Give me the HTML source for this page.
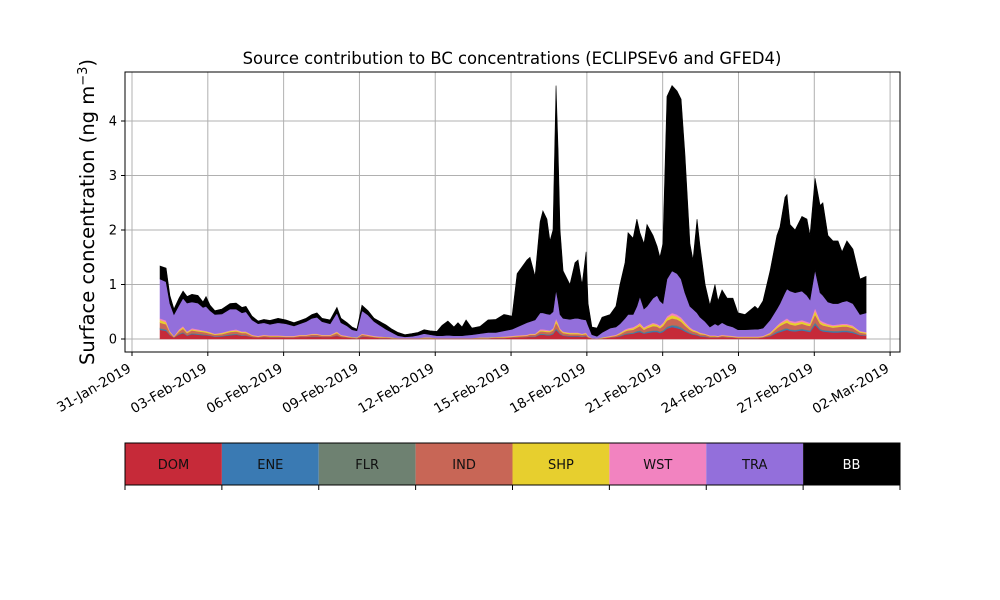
<!DOCTYPE html>
<html><head><meta charset="utf-8"><style>
body{margin:0;background:#fff;}
svg{display:block;font-family:"DejaVu Sans","Liberation Sans",sans-serif;}
</style></head><body>
<svg id="chart" width="1000" height="600" xmlns="http://www.w3.org/2000/svg">
<rect width="1000" height="600" fill="#fff"/>
<text x="512" y="64" font-size="16.4" text-anchor="middle">Source contribution to BC concentrations (ECLIPSEv6 and GFED4)</text>
<text transform="translate(94,212) rotate(-90)" font-size="19.5" text-anchor="middle">Surface concentration (ng m<tspan dy="-7" font-size="13">−3</tspan><tspan dy="7">)</tspan></text>
<g id="grid"></g>
<g id="areas"></g>
<g id="axes"></g>
<g id="cbar"></g>
</svg>
<script>
const days=[1.11,1.35,1.50,1.66,1.86,2.02,2.18,2.37,2.61,2.81,2.93,3.09,3.28,3.56,3.88,4.12,4.35,4.51,4.75,4.99,5.22,5.46,5.78,6.09,6.41,6.65,6.89,7.12,7.32,7.52,7.84,8.11,8.27,8.51,8.71,8.90,9.10,9.34,9.58,9.81,10.05,10.29,10.53,10.80,11.08,11.32,11.56,11.79,12.07,12.27,12.50,12.74,12.90,13.06,13.22,13.45,13.77,14.09,14.40,14.72,15.04,15.24,15.63,15.75,15.95,16.15,16.26,16.42,16.54,16.66,16.78,16.86,16.94,17.06,17.33,17.53,17.65,17.81,17.97,18.05,18.20,18.40,18.60,18.92,19.15,19.31,19.51,19.63,19.83,19.98,20.10,20.26,20.38,20.62,20.78,20.89,21.01,21.17,21.37,21.57,21.73,21.88,22.08,22.20,22.36,22.48,22.68,22.87,23.07,23.19,23.35,23.55,23.78,23.98,24.26,24.65,24.77,24.97,25.25,25.52,25.64,25.84,25.92,26.04,26.24,26.51,26.71,26.83,27.03,27.23,27.34,27.54,27.74,27.94,28.10,28.29,28.53,28.81,29.05];
const DOM=[.17,.15,.07,.03,.08,.11,.06,.09,.08,.07,.07,.06,.04,.05,.07,.08,.06,.06,.04,.03,.04,.03,.03,.03,.03,.04,.04,.04,.04,.04,.04,.06,.04,.03,.02,.01,.04,.04,.03,.02,.02,.01,.01,.01,.01,.01,.01,.01,.01,.01,.01,.01,.01,.01,.01,.01,.01,.01,.02,.02,.03,.03,.04,.04,.04,.08,.08,.07,.07,.09,.17,.13,.09,.06,.05,.05,.05,.04,.05,.03,.01,.01,.01,.03,.04,.05,.08,.09,.10,.12,.13,.10,.11,.13,.13,.11,.13,.19,.22,.20,.18,.14,.10,.08,.07,.05,.04,.03,.03,.03,.04,.03,.03,.02,.02,.02,.02,.03,.05,.11,.13,.16,.17,.15,.14,.16,.14,.13,.26,.16,.14,.13,.12,.12,.13,.13,.11,.07,.06];
const ENE=[.02,.02,.01,0,.01,.01,.01,.01,.01,.01,.01,.01,.01,.01,.01,.01,.01,.01,0,0,0,0,0,0,0,0,0,.01,.01,0,0,.01,0,0,0,0,.01,0,0,0,0,0,0,0,0,0,0,0,0,0,0,0,0,0,0,0,0,0,0,0,0,0,0,.01,.01,.01,.01,.01,.01,.01,.02,.02,.01,.01,.01,.01,.01,.01,.01,0,0,0,0,0,0,.01,.01,.01,.01,.02,.02,.01,.02,.02,.02,.02,.02,.02,.03,.03,.02,.02,.01,.01,.01,.01,.01,0,0,0,0,0,0,0,0,0,0,0,.01,.02,.02,.02,.02,.02,.02,.02,.02,.02,.03,.02,.02,.02,.02,.02,.02,.02,.02,.01,.01];
const FLR=[.01,.01,0,0,.01,.01,0,.01,.01,.01,0,0,0,0,.01,.01,0,0,0,0,0,0,0,0,0,0,0,0,0,0,0,0,0,0,0,0,0,0,0,0,0,0,0,0,0,0,0,0,0,0,0,0,0,0,0,0,0,0,0,0,0,0,0,0,0,.01,.01,.01,.01,.01,.01,.01,.01,0,0,0,0,0,0,0,0,0,0,0,0,0,.01,.01,.01,.01,.01,.01,.01,.01,.01,.01,.01,.02,.01,.02,.02,.01,.01,.01,0,0,0,0,0,0,0,0,0,0,0,0,0,0,0,.01,.01,.02,.01,.01,.01,.01,.01,.01,.02,.01,.01,.01,.01,.01,.01,.01,.01,0,0];
const IND=[.10,.09,.04,.01,.04,.06,.04,.05,.04,.04,.04,.03,.03,.03,.04,.04,.04,.04,.02,.01,.02,.02,.02,.01,.01,.02,.02,.03,.03,.02,.02,.04,.02,.01,.01,.01,.03,.02,.01,.01,.01,.01,.01,.01,.01,.01,.01,.01,.01,.01,.01,.01,.01,.01,.01,.01,.01,.01,.01,.01,.01,.02,.02,.03,.03,.04,.04,.04,.04,.05,.10,.08,.05,.04,.03,.03,.03,.03,.03,.01,.01,0,.01,.01,.02,.03,.04,.05,.05,.06,.08,.05,.06,.08,.07,.06,.08,.11,.12,.11,.10,.08,.05,.04,.04,.03,.03,.02,.02,.01,.02,.02,.01,.01,.01,.01,.01,.01,.03,.06,.08,.09,.10,.09,.08,.09,.08,.08,.14,.09,.08,.07,.06,.07,.07,.07,.06,.04,.03];
const SHP=[.05,.04,.02,.01,.02,.03,.02,.02,.02,.02,.02,.02,.01,.02,.02,.02,.02,.02,.01,.01,.01,.01,.01,.01,.01,.01,.01,.01,.01,.01,.01,.02,.01,.01,.01,.01,.01,.01,.01,.01,.01,.01,0,0,0,0,.01,.01,0,0,0,0,0,0,0,0,.01,.01,.01,.01,.01,.01,.01,.01,.01,.02,.02,.02,.02,.02,.05,.04,.02,.02,.02,.02,.02,.01,.02,.01,0,0,.01,.01,.01,.02,.02,.02,.03,.03,.04,.03,.03,.04,.03,.03,.04,.05,.06,.05,.05,.04,.03,.02,.02,.02,.01,.01,.01,.01,.01,.01,.01,.01,.01,.01,.01,.01,.02,.03,.04,.04,.05,.04,.04,.04,.04,.04,.07,.04,.04,.03,.03,.03,.03,.03,.03,.02,.02];
const WST=[.03,.03,.01,.01,.02,.02,.01,.02,.02,.01,.01,.01,.01,.01,.01,.02,.01,.01,.01,.01,.01,.01,.01,.01,.01,.01,.01,.01,.01,.01,.01,.01,.01,.01,0,0,.01,.01,.01,.01,0,0,0,0,0,0,0,0,0,0,0,0,0,0,0,0,0,0,0,.01,.01,.01,.01,.01,.01,.02,.02,.02,.01,.02,.03,.02,.02,.01,.01,.01,.01,.01,.01,.01,0,0,0,.01,.01,.01,.02,.02,.02,.02,.02,.02,.02,.02,.02,.02,.02,.03,.04,.04,.03,.03,.02,.02,.01,.01,.01,.01,.01,.01,.01,.01,.01,.01,.01,.01,.01,.01,.01,.02,.02,.03,.03,.03,.03,.03,.03,.02,.05,.03,.03,.02,.02,.02,.02,.02,.02,.01,.01];
const TRA=[.72,.71,.50,.39,.44,.51,.52,.48,.48,.42,.45,.39,.35,.34,.39,.37,.34,.36,.27,.22,.22,.20,.23,.22,.18,.20,.24,.28,.30,.24,.20,.34,.22,.18,.13,.12,.42,.36,.26,.20,.14,.09,.04,.02,.03,.05,.07,.05,.04,.04,.05,.04,.04,.04,.05,.06,.07,.09,.08,.10,.12,.15,.22,.22,.25,.30,.30,.29,.29,.30,.52,.40,.25,.24,.24,.26,.26,.26,.23,.19,.06,.04,.09,.14,.14,.16,.20,.25,.23,.34,.48,.33,.35,.45,.52,.45,.35,.68,.77,.75,.70,.53,.38,.37,.33,.28,.22,.15,.21,.19,.22,.18,.16,.12,.12,.13,.13,.14,.23,.30,.35,.49,.54,.54,.53,.53,.48,.42,.70,.50,.48,.40,.39,.38,.40,.42,.40,.30,.35];
const BB=[.24,.25,.15,.10,.13,.13,.12,.14,.14,.10,.18,.10,.07,.09,.10,.11,.10,.10,.07,.05,.06,.07,.08,.07,.06,.06,.06,.07,.08,.06,.07,.10,.08,.06,.05,.03,.10,.08,.06,.07,.08,.06,.06,.04,.05,.05,.07,.07,.08,.19,.26,.16,.24,.16,.28,.12,.13,.23,.24,.30,.24,.98,1.15,1.18,.80,1.67,1.87,1.74,1.35,1.50,3.75,2.80,1.55,.87,.64,1.02,1.07,.64,1.25,.40,.14,.15,.28,.25,.38,.72,1.02,1.50,1.40,1.60,1.17,1.20,1.50,1.15,.90,.80,1.10,3.35,3.40,3.35,3.30,2.55,1.15,.90,1.72,1.30,.68,.40,.72,.45,.60,.50,.53,.31,.28,.42,.37,.50,.90,1.35,1.40,1.75,1.73,1.22,1.15,1.37,1.40,1.18,1.68,1.60,1.70,1.22,1.15,1.15,.92,1.10,1.00,.65,.67];
const sources=["DOM","ENE","FLR","IND","SHP","WST","TRA","BB"];
const colors=["#c62a39","#3a7ab3","#6e8171","#c86656","#e7cf2e","#f283c0","#936fdb","#000000"];
const yTicks=[0,1,2,3,4];
const xTickDays=[0,3,6,9,12,15,18,21,24,27,30];
const xTickLabels=["31-Jan-2019","03-Feb-2019","06-Feb-2019","09-Feb-2019","12-Feb-2019","15-Feb-2019","18-Feb-2019","21-Feb-2019","24-Feb-2019","27-Feb-2019","02-Mar-2019"];

const NS="http://www.w3.org/2000/svg";
const L=125,R=900,T=72,B=352;
const xS=d=>132+d*25.27;
const yS=v=>339-v*54.5;
function mk(tag,attrs,parent){const e=document.createElementNS(NS,tag);for(const k in attrs)e.setAttribute(k,attrs[k]);parent.appendChild(e);return e;}
const grid=document.getElementById('grid'),areas=document.getElementById('areas'),axes=document.getElementById('axes'),cbar=document.getElementById('cbar');
xTickDays.forEach((d,i)=>{
  const g=mk('line',{x1:xS(d),x2:xS(d),y1:T,y2:B,stroke:'#b0b0b0','stroke-width':1},grid);
  
  
  const t=mk('line',{x1:xS(d),x2:xS(d),y1:B,y2:B+4,stroke:'#000'},axes);
  
  
  const lb=mk('text',{transform:`translate(${xS(d)},${B+19}) rotate(-30)`,'font-size':13.5,'text-anchor':'end'},axes);
  lb.textContent=xTickLabels[i];
  
  
});
yTicks.forEach(v=>{
  const g=mk('line',{x1:L,x2:R,y1:yS(v),y2:yS(v),stroke:'#b0b0b0','stroke-width':1},grid);
  
  
  const t=mk('line',{x1:L-4,x2:L,y1:yS(v),y2:yS(v),stroke:'#000'},axes);
  
  
  const lb=mk('text',{x:L-8,y:yS(v)+4.5,'font-size':13,'text-anchor':'end'},axes);
  lb.textContent=String(v);
  
  
});
const series=[DOM,ENE,FLR,IND,SHP,WST,TRA,BB];
let base=days.map(()=>0);
series.forEach((s,k)=>{
  const top=base.map((b,i)=>b+s[i]);
  let d='M'+days.map((t,i)=>xS(t).toFixed(2)+','+yS(top[i]).toFixed(2)).join('L');
  for(let i=days.length-1;i>=0;i--)d+='L'+xS(days[i]).toFixed(2)+','+yS(base[i]).toFixed(2);
  d+='Z';
  const p=mk('path',{d:d,fill:colors[k],stroke:colors[k],'stroke-width':0.6},areas);
  
  
  base=top;
});
const fr=mk('rect',{x:L,y:T,width:R-L,height:B-T,fill:'none',stroke:'#000','stroke-width':1},axes);


const cw=(R-L)/sources.length;
sources.forEach((s,i)=>{
  const r=mk('rect',{x:L+i*cw,y:443,width:cw,height:42,fill:colors[i]},cbar);
  
  
  const t=mk('text',{x:L+i*cw+cw/2,y:469,'font-size':13,'text-anchor':'middle',fill:s==='BB'?'#fff':'#111'},cbar);
  t.textContent=s;
  
  
});
for(let i=0;i<=sources.length;i++){
  const t=mk('line',{x1:L+i*cw,x2:L+i*cw,y1:485,y2:490,stroke:'#000'},cbar);
  
  
}
const cf=mk('rect',{x:L,y:443,width:R-L,height:42,fill:'none',stroke:'#000','stroke-width':1},cbar);


</script>
</body></html>
